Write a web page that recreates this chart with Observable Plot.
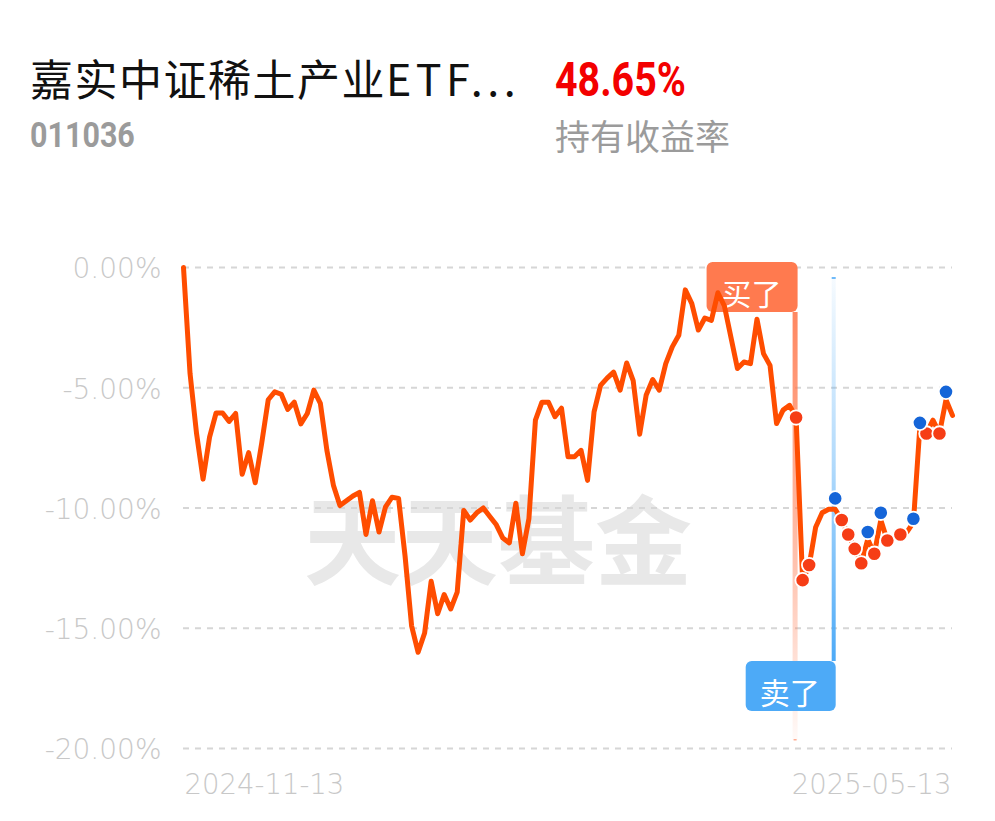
<!DOCTYPE html>
<html><head><meta charset="utf-8">
<script src="https://cdn.jsdelivr.net/npm/d3@7"></script>
<script src="https://cdn.jsdelivr.net/npm/@observablehq/plot@0.6"></script>
<style>
html,body{margin:0;padding:0;background:#fff;}
body{width:995px;height:821px;overflow:hidden;position:relative;font-family:"Noto Sans CJK SC",sans-serif;}
.t{position:absolute;line-height:1;white-space:nowrap;}
#title{left:30px;top:56px;font-size:43px;letter-spacing:1.5px;color:#111;}
#title .lat{letter-spacing:4.5px;}
#code{left:30px;top:118px;font-family:Roboto,sans-serif;font-weight:700;font-size:35px;color:#9b9b9b;transform:scaleX(0.87);transform-origin:left top;}
#ret{left:555px;top:56px;font-family:Roboto,sans-serif;font-weight:700;font-size:48px;color:#f30000;transform:scaleX(0.82);transform-origin:left top;}
#retlab{left:555px;top:117px;font-size:35px;color:#9b9b9b;}
#chart{position:absolute;left:0;top:200px;}
</style>
</head><body>
<div class="t" id="title"></div>
<div class="t" id="code"></div>
<div class="t" id="ret"></div>
<div class="t" id="retlab"></div>
<div id="chart"></div>
<script>
// ---- data ----
const fundName = "嘉实中证稀土产业ETF...";
const fundCode = "011036";
const holdReturn = "48.65%";
const holdReturnLabel = "持有收益率";
const watermark = "天天基金";

// trading-day index of each vertex, and cumulative return (%)
const lineIdx = [0,1,2,3,4,5,6,7,8,9,10,11,12,13,14,15,16,17,18,19,20,21,22,23,24,25,26,27,28,29,30,31,32,33,34,35,36,37,38,39,40,41,42,43,44,45,46,47,48,49,50,51,52,53,54,55,56,57,58,59,60,61,62,63,64,65,66,67,68,69,70,71,72,73,74,75,76,77,78,79,80,81,82,83,85,86,87,88,89,90,91,92,93,94,95,96,97,98,99,100,101,102,103,104,105,106,107,108,109,110,111,112,113,114,115,116,117,118];
const lineVal = [0,-4.4,-6.9,-8.8,-7.05,-6.05,-6.05,-6.4,-6.07,-8.6,-7.7,-8.95,-7.3,-5.5,-5.17,-5.27,-5.9,-5.6,-6.5,-6.07,-5.1,-5.65,-7.6,-9.05,-9.9,-9.7,-9.5,-9.35,-11.1,-9.7,-11.0,-9.95,-9.55,-9.6,-12.0,-14.9,-16.0,-15.2,-13.05,-14.4,-13.6,-14.2,-13.5,-10.1,-10.5,-10.2,-10.0,-10.35,-10.7,-11.25,-11.45,-9.8,-11.9,-10.45,-6.35,-5.6,-5.6,-6.2,-5.85,-7.87,-7.87,-7.6,-8.85,-6.0,-4.9,-4.6,-4.35,-5.1,-3.97,-4.7,-6.93,-5.3,-4.66,-5.1,-4.0,-3.3,-2.82,-0.93,-1.5,-2.6,-2.1,-2.2,-1.05,-1.6,-4.2,-3.93,-4.0,-2.15,-3.58,-4.07,-6.49,-5.93,-5.73,-6.24,-13.0,-12.4,-10.8,-10.2,-10.05,-10.05,-10.5,-11.1,-11.7,-12.3,-11.3,-11.9,-10.5,-11.35,-11.25,-11.1,-11.0,-10.6,-6.6,-6.9,-6.35,-6.9,-5.5,-6.15];

// buy (red) and sell (blue) points
const buyDotIdx = [94,95,96,101,102,103,104,106,108,110,114,116];
const buyDotVal = [-6.24,-13.0,-12.37,-10.5,-11.1,-11.7,-12.3,-11.9,-11.35,-11.1,-6.9,-6.9];
const sellDotIdx = [100,105,107,112,113,117];
const sellDotVal = [-9.6,-11.0,-10.2,-10.45,-6.46,-5.17];

const yTicks = [0,-5,-10,-15,-20];
const xTickIdx = [0,118];
const xTickLabels = ["2024-11-13","2025-05-13"];

const buyMarkIdx = 94;
const sellMarkIdx = 100;
const buyLabel = "买了";
const sellLabel = "卖了";

// ---- header ----
const titleEl = document.getElementById("title");
const m = fundName.match(/^([^A-Za-z.]*)(.*)$/);
titleEl.appendChild(document.createTextNode(m[1]));
const lat = document.createElement("span"); lat.className = "lat"; lat.textContent = m[2];
titleEl.appendChild(lat);
document.getElementById("code").textContent = fundCode;
document.getElementById("ret").textContent = holdReturn;
document.getElementById("retlab").textContent = holdReturnLabel;

const lineData = lineIdx.map((d,i) => ({x: d, y: lineVal[i]}));
const buyDots = buyDotIdx.map((d,i) => ({x: d, y: buyDotVal[i]}));
const sellDots = sellDotIdx.map((d,i) => ({x: d, y: sellDotVal[i]}));

const axisColor = "#c8c8c8";
const lineColor = "#ff4d00";
const buyColor = "#ff7a4f";
const sellColor = "#4daaf7";

const markers = Plot.ruleX([buyMarkIdx, sellMarkIdx], {
  x: d => d,
  render(index, scales, values, dimensions, context) {
    const sx = scales.x, sy = scales.y;
    const xb = sx(buyMarkIdx), xs = sx(sellMarkIdx);
    const yTop = sy(d3.max(yTicks)), yBot = sy(d3.min(yTicks));
    const g = d3.create("svg:g");
    const defs = g.append("defs");
    const gb = defs.append("linearGradient").attr("id","gBuy")
      .attr("x1",0).attr("x2",0).attr("y1",0).attr("y2",1);
    gb.append("stop").attr("offset",0).attr("stop-color",buyColor).attr("stop-opacity",0.9);
    gb.append("stop").attr("offset",0.6).attr("stop-color",buyColor).attr("stop-opacity",0.45);
    gb.append("stop").attr("offset",1).attr("stop-color",buyColor).attr("stop-opacity",0.04);
    const gs = defs.append("linearGradient").attr("id","gSell")
      .attr("x1",0).attr("x2",0).attr("y1",0).attr("y2",1);
    gs.append("stop").attr("offset",0).attr("stop-color",sellColor).attr("stop-opacity",0.05);
    gs.append("stop").attr("offset",0.5).attr("stop-color",sellColor).attr("stop-opacity",0.45);
    gs.append("stop").attr("offset",1).attr("stop-color",sellColor).attr("stop-opacity",1);

    // buy: label box on top, fading bar below
    const bTop = yTop - 5, bBot = yTop + 45;
    g.append("rect").attr("x", xb - 3).attr("y", bBot).attr("width", 5)
      .attr("height", (yBot - 8) - bBot).attr("fill","url(#gBuy)");
    g.append("rect").attr("x", xb - 2).attr("y", yBot - 9).attr("width", 3).attr("height", 1.5)
      .attr("fill", buyColor).attr("opacity", 0.6);
    g.append("rect").attr("x", xb - 89).attr("y", bTop).attr("width", 91).attr("height", bBot - bTop)
      .attr("rx", 6).attr("fill", buyColor);
    g.append("text").attr("x", xb - 44).attr("y", yTop + 25).attr("text-anchor","middle")
      .attr("dominant-baseline","central").attr("fill","#fff")
      .attr("font-family","Noto Sans CJK SC").attr("font-size",30).text(buyLabel);

    // sell: fading line from top, label box at bottom
    const sTop = yBot - 87, sBot = yBot - 37;
    g.append("rect").attr("x", xs - 3).attr("y", yTop + 10).attr("width", 4)
      .attr("height", sTop - (yTop + 10)).attr("fill","url(#gSell)");
    g.append("rect").attr("x", xs - 3).attr("y", yTop + 10).attr("width", 4).attr("height", 2)
      .attr("fill", sellColor).attr("opacity", 0.8);
    g.append("rect").attr("x", xs - 89).attr("y", sTop).attr("width", 90).attr("height", sBot - sTop)
      .attr("rx", 6).attr("fill", sellColor);
    g.append("text").attr("x", xs - 45).attr("y", sTop + 30).attr("text-anchor","middle")
      .attr("dominant-baseline","central").attr("fill","#fff")
      .attr("font-family","Noto Sans CJK SC").attr("font-size",30).text(sellLabel);
    return g.node();
  }
});

const chart = Plot.plot({
  width: 995,
  height: 621,
  marginLeft: 183,
  marginRight: 43,
  marginTop: 67,
  marginBottom: 73,
  style: {background: "transparent", overflow: "visible", fontFamily: "DejaVu Sans"},
  x: {domain: d3.extent(lineIdx), axis: null},
  y: {domain: d3.extent(yTicks), axis: null},
  marks: [
    Plot.text([watermark], {frameAnchor: "middle", dx: -70, dy: 38, fontSize: 97, fontWeight: 700,
      fill: "#e8e8e8", fontFamily: "Noto Sans CJK SC"}),
    Plot.gridY(yTicks, {stroke: "#d6d6d6", strokeOpacity: 1, strokeWidth: 2, strokeDasharray: "6,6"}),
    Plot.axisY(yTicks, {tickSize: 0, tickPadding: 22, tickFormat: d => d.toFixed(2) + "%",
      fontSize: 28, fontWeight: 200, fill: axisColor, dy: 2, label: null, fontFamily: "DejaVu Sans"}),
    Plot.text([xTickIdx[0]], {x: d => d, y: () => d3.min(yTicks), text: () => xTickLabels[0],
      textAnchor: "start", dx: 1, dy: 37, fontSize: 27.5, fontWeight: 200, fill: axisColor, fontFamily: "DejaVu Sans"}),
    Plot.text([xTickIdx[1]], {x: d => d, y: () => d3.min(yTicks), text: () => xTickLabels[1],
      textAnchor: "end", dx: -1, dy: 37, fontSize: 27.5, fontWeight: 200, fill: axisColor, fontFamily: "DejaVu Sans"}),
    markers,
    Plot.line(lineData, {x: "x", y: "y", stroke: lineColor, strokeWidth: 5,
      strokeLinejoin: "round", strokeLinecap: "round"}),
    Plot.dot(buyDots, {x: "x", y: "y", r: 7.2, fill: "#f63d16", stroke: "#fff", strokeWidth: 1.8}),
    Plot.dot(sellDots, {x: "x", y: "y", r: 7.2, fill: "#1565d8", stroke: "#fff", strokeWidth: 1.8})
  ]
});
document.getElementById("chart").appendChild(chart);
</script>
</body></html>
